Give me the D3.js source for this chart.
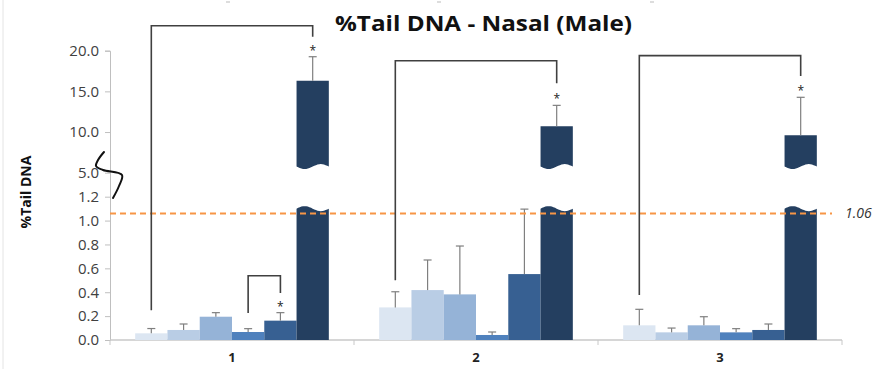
<!DOCTYPE html>
<html>
<head>
<meta charset="utf-8">
<script src="https://cdn.jsdelivr.net/npm/d3@7"></script>
<style>
  body { margin: 0; background: #fff; }
  svg { display: block; font-family: "Open Sans", "Liberation Sans", sans-serif; }
</style>
</head>
<body>
<div id="chart"></div>
<script>
// data --------------------------------------------------------------
const categories = ["1", "2", "3"];
const seriesNames = ["s1", "s2", "s3", "s4", "s5", "s6"];
const seriesColors = ["#dce6f2", "#b9cde5", "#95b3d7", "#4f81bd", "#376092", "#243f60"];

// mean %Tail DNA per category, one array per series
const s1 = [0.056, 0.273, 0.123];
const s2 = [0.084, 0.418, 0.064];
const s3 = [0.195, 0.382, 0.123];
const s4 = [0.067, 0.042, 0.064];
const s5 = [0.162, 0.552, 0.084];
const s6 = [16.3, 10.7, 9.6];
const means = [s1, s2, s3, s4, s5, s6];

// upper error bar lengths
const e1 = [0.040, 0.131, 0.134];
const e2 = [0.050, 0.252, 0.036];
const e3 = [0.034, 0.405, 0.072];
const e4 = [0.028, 0.025, 0.031];
const e5 = [0.067, 0.544, 0.050];
const e6 = [2.96, 2.58, 4.67];
const errs = [e1, e2, e3, e4, e5, e6];

const yTicks = [0, 0.2, 0.4, 0.6, 0.8, 1.0, 1.2, 5, 10, 15, 20];
const refValue = 1.06;

// significance brackets: category, from/to series, top + end values
const brackets = [
  {cat: "1", a: 0, b: 5, top: 23.07, endA: 0.25, endB: 21.7},
  {cat: "1", a: 3, b: 4, top: 0.538, endA: 0.226, endB: 0.393},
  {cat: "2", a: 0, b: 5, top: 18.77, endA: 0.50, endB: 16.0},
  {cat: "3", a: 0, b: 5, top: 19.39, endA: 0.377, endB: 16.9}
];
// bars marked with * (category, series)
const stars = [
  {cat: "1", s: 5}, {cat: "1", s: 4}, {cat: "2", s: 5}, {cat: "3", s: 5}
];
const breakLow = 1.1;   // top of lower stub on broken bars
const breakHigh = 5.75; // bottom of upper piece on broken bars

// chart setup -------------------------------------------------------
const svgWidth = 883, svgHeight = 369;

const svg = d3.select("#chart").append("svg")
  .attr("width", svgWidth)
  .attr("height", svgHeight);

const x0 = d3.scaleBand().domain(categories).range([110, 842]);
const x1 = d3.scaleBand().domain(d3.range(6)).range([0, x0.bandwidth()]).paddingOuter(0.78);

// broken axis: two linear pieces glued together
const y = d3.scaleLinear()
  .domain([0, 1.2, 5, 20])
  .range([340, 196.7, 172.7, 50.7]);

// frame leftovers of the cropped picture
svg.append("line").attr("x1", 3).attr("x2", 3).attr("y1", 0).attr("y2", 369)
  .attr("stroke", "#e4e4e4").attr("stroke-width", 1);
[228, 439, 652].forEach(px => {
  svg.append("line").attr("x1", px - 2).attr("x2", px + 2).attr("y1", 2).attr("y2", 2)
    .attr("stroke", "#bbb");
});

// title
svg.append("text")
  .attr("x", 335).attr("y", 31)
  .attr("font-size", "22px")
  .attr("font-weight", "bold")
  .attr("fill", "#111")
  .attr("textLength", 297)
  .attr("lengthAdjust", "spacingAndGlyphs")
  .text("%Tail DNA - Nasal (Male)");

// y axis
const yAxis = svg.append("g")
  .attr("transform", "translate(110,0)")
  .call(d3.axisLeft(y).tickValues(yTicks).tickFormat(d3.format(".1f")).tickSize(5).tickPadding(6));
yAxis.select(".domain").attr("stroke", "#bfbfbf");
yAxis.selectAll(".tick line").attr("stroke", "#bfbfbf");
yAxis.selectAll(".tick text")
  .attr("font-size", "15px")
  .attr("fill", "#404040")
  .attr("font-family", "Open Sans, sans-serif");

svg.append("text")
  .attr("transform", "translate(31,192) rotate(-90)")
  .attr("text-anchor", "middle")
  .attr("font-size", "14px")
  .attr("font-weight", "bold")
  .attr("fill", "#111")
  .text("%Tail DNA");

// x axis
const xAxis = svg.append("g")
  .attr("transform", "translate(0,340)");
xAxis.append("line").attr("x1", 110).attr("x2", 842)
  .attr("stroke", "#c8c8c8").attr("stroke-width", 1.5);
[...categories.map(c => x0(c)), 842].forEach(px => {
  xAxis.append("line").attr("x1", px).attr("x2", px).attr("y1", 0).attr("y2", 5)
    .attr("stroke", "#c8c8c8");
});
xAxis.selectAll("text.cat")
  .data(categories)
  .enter()
  .append("text")
  .attr("class", "cat")
  .attr("x", d => x0(d) + x0.bandwidth() / 2)
  .attr("y", 22)
  .attr("text-anchor", "middle")
  .attr("font-size", "13px")
  .attr("font-weight", "bold")
  .attr("fill", "#222")
  .text(d => d);

// bars --------------------------------------------------------------
const barData = [];
categories.forEach((c, ci) => {
  means.forEach((m, si) => {
    barData.push({cat: c, s: si, v: m[ci], e: errs[si][ci]});
  });
});

const barX = d => x0(d.cat) + x1(d.s);
const bw = x1.bandwidth();

// wavy edge helper
function wave(x, w, yBase, amp, phase) {
  const pts = [];
  for (let i = 0; i <= 20; i++) {
    const t = i / 20;
    pts.push([x + t * w, yBase + amp * Math.sin(2 * Math.PI * t + phase)]);
  }
  return pts;
}

const barsGroup = svg.append("g");
barData.forEach(d => {
  const bx = barX(d);
  if (d.v <= 1.2) {
    barsGroup.append("rect")
      .attr("x", bx).attr("y", y(d.v))
      .attr("width", bw).attr("height", y(0) - y(d.v))
      .attr("fill", seriesColors[d.s]);
  } else {
    // lower stub with wavy top
    const top = wave(bx, bw, y(breakLow), 2.5, Math.PI);
    const lower = [[bx, y(0)], ...top, [bx + bw, y(0)]];
    barsGroup.append("path")
      .attr("d", d3.line()(lower) + "Z")
      .attr("fill", seriesColors[d.s]);
    // upper piece with wavy bottom
    const bot = wave(bx, bw, y(breakHigh), 2.5, 0).reverse();
    const upper = [[bx, y(d.v)], [bx + bw, y(d.v)], ...bot];
    barsGroup.append("path")
      .attr("d", d3.line()(upper) + "Z")
      .attr("fill", seriesColors[d.s]);
  }
});

// error bars
const errGroup = svg.append("g").attr("stroke", "#7f7f7f").attr("stroke-width", 1.2);
barData.forEach(d => {
  const cx = barX(d) + bw / 2;
  errGroup.append("line").attr("x1", cx).attr("x2", cx)
    .attr("y1", y(d.v)).attr("y2", y(d.v + d.e));
  errGroup.append("line").attr("x1", cx - 4).attr("x2", cx + 4)
    .attr("y1", y(d.v + d.e)).attr("y2", y(d.v + d.e));
});

// reference line
svg.append("line")
  .attr("x1", 110).attr("x2", 832)
  .attr("y1", y(refValue)).attr("y2", y(refValue))
  .attr("stroke", "#f79646").attr("stroke-width", 2)
  .attr("stroke-dasharray", "6,4");
svg.append("text")
  .attr("x", 845).attr("y", y(refValue) + 5)
  .attr("font-size", "14px")
  .attr("font-style", "italic")
  .attr("fill", "#333")
  .text(refValue.toFixed(2));

// brackets
const brGroup = svg.append("g")
  .attr("fill", "none").attr("stroke", "#404040").attr("stroke-width", 1.6);
brackets.forEach(b => {
  const xa = x0(b.cat) + x1(b.a) + bw / 2;
  const xb = x0(b.cat) + x1(b.b) + bw / 2;
  brGroup.append("path")
    .attr("d", d3.line()([[xa, y(b.endA)], [xa, y(b.top)], [xb, y(b.top)], [xb, y(b.endB)]]));
});

// asterisks
stars.forEach(st => {
  const d = barData.find(b => b.cat === st.cat && b.s === st.s);
  svg.append("text")
    .attr("x", barX(d) + bw / 2)
    .attr("y", y(d.v + d.e) - 2)
    .attr("text-anchor", "middle")
    .attr("font-size", "12px")
    .attr("fill", "#222")
    .text("*");
});

// hand drawn axis break squiggle
svg.append("path")
  .attr("d", d3.line().curve(d3.curveCatmullRom)([[104, 152], [98, 160], [96, 166], [103, 170], [122, 175], [119, 186], [113, 198]]))
  .attr("fill", "none")
  .attr("stroke", "#111")
  .attr("stroke-width", 2)
  .attr("stroke-linecap", "round");
</script>
</body>
</html>
